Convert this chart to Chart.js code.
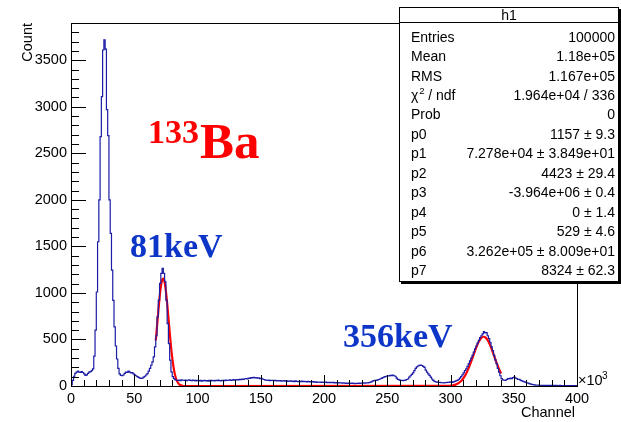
<!DOCTYPE html>
<html>
<head>
<meta charset="utf-8">
<script src="https://cdn.jsdelivr.net/npm/chart.js@4.4.0/dist/chart.umd.min.js"></script>
<style>
  html, body { margin: 0; padding: 0; background: #fff; }
</style>
</head>
<body>
<canvas id="spectrum" width="621" height="422"></canvas>
<script>
// ── Data (channel in units of 10^3, one bin per unit) ──────────
const binEdges = [0, 400];
const counts = [
      15,   60,  105,  135,  150,  160,  150,  145,  155,  145,
     130,  115,  120,  135,  150,  155,  165,  185,  320,  600,
    1010, 1550, 2000, 2680, 3110, 3610, 3720, 3620, 2970, 2690,
    2000, 1640, 1245,  920,  635,  430,  290,  190,  130,  115,
     110,  118,  135,  150,  145,  160,  150,  140,  145,  130,
     120,  110,  100,   92,   85,   82,   85,   95,  105,  118,
     133,  160,  190,  223,  260,  312,  420,  540,  743,  922,
    1102, 1210, 1264, 1210, 1120,  922,  671,  456,  277,  151,
     100,   79,   68,   62,   60,   64,   58,   66,   62,   60,
      64,   58,   62,   66,   60,   57,   63,   60,   55,   62,
      58,   55,   60,   52,   57,   62,   55,   58,   53,   60,
      56,   62,   58,   54,   60,   57,   63,   58,   55,   61,
      60,   57,   64,   59,   62,   66,   60,   64,   68,   63,
      66,   70,   65,   72,   68,   75,   72,   78,   80,   76,
      85,   82,   90,   88,   92,   86,   90,   84,   88,   80,
      82,   75,   70,   66,   62,   60,   64,   58,   62,   60,
      57,   60,   55,   58,   54,   57,   52,   55,   58,   52,
      55,   50,   53,   56,   50,   52,   48,   54,   50,   47,
      50,   48,   52,   46,   50,   47,   44,   49,   45,   48,
      44,   46,   42,   45,   40,   43,   41,   38,   42,   40,
      38,   41,   37,   40,   36,   39,   35,   38,   34,   37,
      33,   36,   32,   35,   30,   33,   31,   29,   32,   28,
      30,   27,   31,   28,   26,   29,   27,   30,   28,   32,
      30,   33,   31,   35,   32,   36,   40,   45,   52,   58,
      62,   60,   65,   70,   75,   82,   90,   95,  100,  105,
     110,  108,  115,  112,  118,  110,  105,   85,   72,   65,
      60,   62,   58,   60,   64,   70,   75,   95,  110,  125,
     140,  165,  190,  205,  215,  222,  225,  220,  210,  200,
     170,  150,  130,  115,   95,   75,   60,   50,   45,   42,
      40,   38,   36,   35,   34,   36,   35,   38,   40,   42,
      45,   40,   45,   50,   55,   60,   70,   85,  100,  120,
     140,  165,  185,  210,  240,  270,  300,  330,  365,  400,
     430,  460,  490,  520,  540,  560,  585,  570,  575,  540,
     510,  470,  420,  380,  330,  280,  240,  190,  150,  110,
      80,   65,   62,   60,   70,   80,   75,   85,   80,   90,
      95,   85,   80,   70,   72,   60,   55,   50,   45,   40,
      35,   30,   25,   20,   18,   15,   12,   10,    8,    9,
       7,    8,    6,    7,    5,    8,    6,    5,    7,    6,
       5,    6,    4,    6,    5,    4,    6,    5,    4,    5,
       4,    5,    3,    5,    4,    3,    4,    5,    3,    4
];

// fit curve
const fitX = [67, 68, 69, 70, 71, 72, 73, 74, 75, 76, 77, 78, 79, 80, 81, 82, 83, 84, 85, 86, 88, 90,
              298, 300, 302, 304, 306, 308, 310, 312, 314, 316, 318, 320, 322, 324, 326, 328, 330,
              332, 334, 336, 338, 340];
const fitY = [489, 641, 799, 947, 1065, 1138, 1155, 1115, 1022, 890, 737, 579, 432, 307, 207, 133, 81, 47, 26, 13, 3, 0,
              1, 4, 8, 15, 28, 48, 80, 124, 181, 250, 326, 401, 466, 511, 529, 517, 477,
              415, 341, 265, 194, 134];

const xTicks = [0, 50, 100, 150, 200, 250, 300, 350, 400];
const yTicks = [0, 500, 1000, 1500, 2000, 2500, 3000, 3500];
const xMinorStep = 10;
const yMinorStep = 100;
const yMax = 3900;

const statsTitle = "h1";
const statsRows = [
    ["Entries", "100000"],
    ["Mean", "1.18e+05"],
    ["RMS", "1.167e+05"],
    ["CHI", "1.964e+04 / 336"],
    ["Prob", "0"],
    ["p0", "1157 \u00b1 9.3"],
    ["p1", "7.278e+04 \u00b1 3.849e+01"],
    ["p2", "4423 \u00b1 29.4"],
    ["p3", "-3.964e+06 \u00b1 0.4"],
    ["p4", "0 \u00b1 1.4"],
    ["p5", "529 \u00b1 4.6"],
    ["p6", "3.262e+05 \u00b1 8.009e+01"],
    ["p7", "8324 \u00b1 62.3"]
];

// ── Build datasets ─────────────────────────────────────
const histPts = [{ x: binEdges[0], y: 0 }]
    .concat(counts.map((c, i) => ({ x: binEdges[0] + i, y: c })))
    .concat([{ x: binEdges[1], y: 0 }]);
const fitPts = fitX.map((x, i) => ({ x: x, y: fitY[i] }));

const SANS = "'Liberation Sans', Arial, sans-serif";
const SERIF = "'Liberation Serif', 'Times New Roman', serif";

// ── Frame, inward ticks, labels, stats box ─────────────
const rootStyle = {
    id: "rootStyle",
    afterDatasetsDraw(chart) {
        const ctx = chart.ctx;
        const a = chart.chartArea;
        const xs = chart.scales.x, ys = chart.scales.y;
        ctx.save();
        ctx.strokeStyle = "#000";
        ctx.lineWidth = 1;
        ctx.beginPath();
        for (let v = binEdges[0]; v <= binEdges[1]; v += xMinorStep) {
            const px = Math.round(xs.getPixelForValue(v)) + 0.5;
            const len = v % 50 === 0 ? 11 : 6;
            ctx.moveTo(px, a.bottom);
            ctx.lineTo(px, a.bottom - len);
        }
        for (let v = 0; v <= yMax; v += yMinorStep) {
            const py = Math.round(ys.getPixelForValue(v)) + 0.5;
            const len = v % 500 === 0 ? 15 : 8;
            ctx.moveTo(a.left, py);
            ctx.lineTo(a.left + len, py);
        }
        ctx.stroke();
        ctx.strokeRect(Math.round(a.left) + 0.5, Math.round(a.top) + 0.5,
                       Math.round(a.right - a.left), Math.round(a.bottom - a.top));

        // axis titles
        ctx.fillStyle = "#000";
        ctx.font = "14.5px " + SANS;
        ctx.textAlign = "right";
        ctx.textBaseline = "alphabetic";
        ctx.fillText("Channel", a.right - 2, 417);
        ctx.save();
        ctx.translate(31.5, a.top);
        ctx.rotate(-Math.PI / 2);
        ctx.fillText("Count", 0, 0);
        ctx.restore();
        ctx.textAlign = "left";
        ctx.fillText("\u00d710", a.right + 1, 385);
        ctx.font = "10px " + SANS;
        ctx.fillText("3", a.right + 25, 379);

        // annotations
        ctx.fillStyle = "#ff0000";
        ctx.font = "bold 34px " + SERIF;
        ctx.fillText("133", 148, 143);
        ctx.font = "bold 51px " + SERIF;
        ctx.fillText("Ba", 200, 158);
        ctx.fillStyle = "#0d35c8";
        ctx.font = "bold 34px " + SERIF;
        ctx.fillText("81keV", 130, 257);
        ctx.fillText("356keV", 343, 347);
        ctx.restore();
    },
    afterDraw(chart) {
        const ctx = chart.ctx;
        const L = 399, T = 7, R = 619, B = 282;
        ctx.save();
        ctx.fillStyle = "#000";
        ctx.fillRect(L + 2, B, R - L, 2);
        ctx.fillRect(R, T + 2, 2, B - T);
        ctx.fillStyle = "#fff";
        ctx.fillRect(L, T, R - L, B - T);
        ctx.strokeStyle = "#000";
        ctx.lineWidth = 1;
        ctx.strokeRect(L + 0.5, T + 0.5, R - L - 1, B - T - 1);
        ctx.beginPath();
        ctx.moveTo(L, 22.5);
        ctx.lineTo(R, 22.5);
        ctx.stroke();

        ctx.fillStyle = "#000";
        ctx.font = "14px " + SANS;
        ctx.textBaseline = "alphabetic";
        ctx.textAlign = "center";
        ctx.fillText(statsTitle, (L + R) / 2, 19.5);
        statsRows.forEach((row, i) => {
            const y = 41.7 + i * 19.44;
            ctx.textAlign = "left";
            if (row[0] === "CHI") {
                ctx.font = "14px " + SANS;
                ctx.fillText("\u03c7", 411, y);
                const w = ctx.measureText("\u03c7").width;
                ctx.font = "9.5px " + SANS;
                ctx.fillText("2", 411 + w + 1, y - 6);
                ctx.font = "14px " + SANS;
                ctx.fillText(" / ndf", 411 + w + 6, y);
            } else {
                ctx.font = "14px " + SANS;
                ctx.fillText(row[0], 411, y);
            }
            ctx.textAlign = "right";
            ctx.fillText(row[1], 615, y);
        });
        ctx.restore();
    }
};

new Chart(document.getElementById("spectrum"), {
    type: "line",
    data: {
        datasets: [
            {
                label: "h1",
                data: histPts,
                stepped: true,
                borderColor: "#1c1ca6",
                borderWidth: 1.2,
                pointRadius: 0,
                fill: false
            },
            {
                label: "fit",
                data: fitPts,
                borderColor: "#ff0000",
                borderWidth: 2.2,
                pointRadius: 0,
                cubicInterpolationMode: "monotone",
                fill: false
            }
        ]
    },
    options: {
        responsive: false,
        animation: false,
        layout: { padding: { left: 0, right: 44, top: 23, bottom: 0 } },
        plugins: {
            legend: { display: false },
            tooltip: { enabled: false }
        },
        scales: {
            x: {
                type: "linear",
                min: binEdges[0],
                max: binEdges[1],
                grid: { display: false, drawTicks: false },
                border: { display: false },
                afterBuildTicks: s => { s.ticks = xTicks.map(v => ({ value: v })); },
                afterFit: s => { s.height = 36; s.paddingLeft = 0; s.paddingRight = 0; },
                ticks: {
                    color: "#000",
                    font: { family: SANS, size: 14.5 },
                    padding: 4,
                    maxRotation: 0,
                    autoSkip: false,
                    callback: v => String(v)
                }
            },
            y: {
                min: 0,
                max: yMax,
                grid: { display: false, drawTicks: false },
                border: { display: false },
                afterBuildTicks: s => { s.ticks = yTicks.map(v => ({ value: v })); },
                afterFit: s => { s.width = 71; },
                ticks: {
                    color: "#000",
                    font: { family: SANS, size: 14.5 },
                    padding: 4,
                    autoSkip: false,
                    callback: v => String(v)
                }
            }
        }
    },
    plugins: [rootStyle]
});
</script>
</body>
</html>
